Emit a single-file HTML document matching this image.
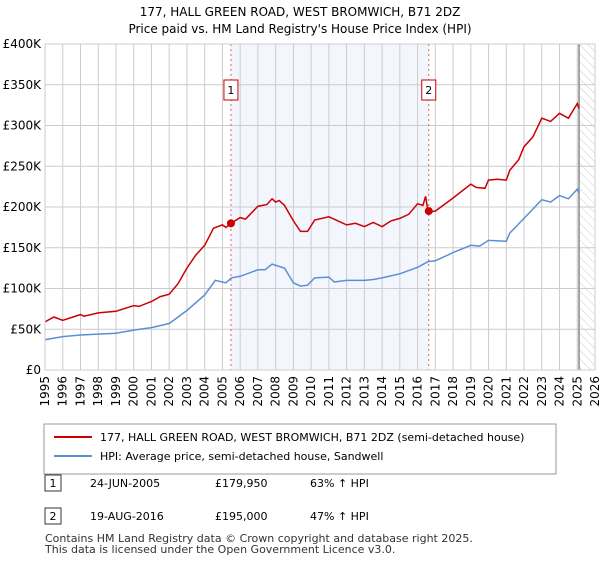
<!DOCTYPE html>
<html><head><meta charset="utf-8"><style>
body{margin:0;background:#fff;font-family:"Liberation Sans","DejaVu Sans",sans-serif;}
svg text{font-family:"DejaVu Sans","Liberation Sans",sans-serif;}
</style></head><body>
<svg id="chart" width="600" height="560" xmlns="http://www.w3.org/2000/svg">
<defs><pattern id="hatch" width="6" height="6" patternUnits="userSpaceOnUse" patternTransform="rotate(-45)"><line x1="0" y1="0" x2="0" y2="6" stroke="#ccc" stroke-width="1"/></pattern></defs>
<text x="300" y="16" text-anchor="middle" font-size="12">177, HALL GREEN ROAD, WEST BROMWICH, B71 2DZ</text>
<text x="300" y="33" text-anchor="middle" font-size="12">Price paid vs. HM Land Registry's House Price Index (HPI)</text>
<g id="plot"></g>
<g>
<rect x="44" y="424" width="512" height="50" fill="#fff" stroke="#999"/>
<line x1="54" y1="437" x2="92" y2="437" stroke="#cc0000" stroke-width="2"/>
<text x="100" y="441" font-size="11">177, HALL GREEN ROAD, WEST BROMWICH, B71 2DZ (semi-detached house)</text>
<line x1="54" y1="456" x2="92" y2="456" stroke="#5b8fd4" stroke-width="2"/>
<text x="100" y="460" font-size="11">HPI: Average price, semi-detached house, Sandwell</text>
</g>
<g font-size="11">
<rect x="45" y="475" width="16" height="16" fill="#fff" stroke="#333"/><text x="53" y="487" text-anchor="middle">1</text>
<text x="90" y="487">24-JUN-2005</text><text x="215" y="487">£179,950</text><text x="310" y="487">63% ↑ HPI</text>
<rect x="45" y="508" width="16" height="16" fill="#fff" stroke="#333"/><text x="53" y="520" text-anchor="middle">2</text>
<text x="90" y="520">19-AUG-2016</text><text x="215" y="520">£195,000</text><text x="310" y="520">47% ↑ HPI</text>
</g>
<text x="45" y="542" font-size="11" fill="#333">Contains HM Land Registry data © Crown copyright and database right 2025.</text>
<text x="45" y="553" font-size="11" fill="#333">This data is licensed under the Open Government Licence v3.0.</text>
</svg>
<script>
const yTicks=[0,50000,100000,150000,200000,250000,300000,350000,400000];
const yTickLabels=["£0","£50K","£100K","£150K","£200K","£250K","£300K","£350K","£400K"];
const xYears=[1995,1996,1997,1998,1999,2000,2001,2002,2003,2004,2005,2006,2007,2008,2009,2010,2011,2012,2013,2014,2015,2016,2017,2018,2019,2020,2021,2022,2023,2024,2025,2026];
const hpiX=[1995,1996,1997,1998,1999,2000,2001,2002,2003,2004,2004.6,2005.2,2005.5,2006,2007,2007.4,2007.8,2008.5,2009,2009.4,2009.8,2010.2,2011,2011.3,2012,2013,2013.5,2014,2015,2016,2016.6,2017,2018,2019,2019.5,2020,2021,2021.2,2022,2023,2023.5,2024,2024.5,2025,2025.1];
const hpiY=[37,41,43,44,45,49,52,57,73,92,110,107,113,115,123,123,130,125,107,103,104,113,114,108,110,110,111,113,118,126,133,134,144,153,152,159,158,168,186,209,206,214,210,222,217];
const redX=[1995,1995.5,1996,1997,1997.2,1998,1999,2000,2000.3,2001,2001.5,2002,2002.5,2003,2003.5,2004,2004.5,2005,2005.2,2005.48,2006,2006.3,2007,2007.5,2007.8,2008,2008.2,2008.5,2009,2009.4,2009.8,2010.2,2011,2011.3,2012,2012.5,2013,2013.5,2014,2014.5,2015,2015.5,2016,2016.3,2016.45,2016.55,2016.63,2017,2018,2019,2019.3,2019.8,2020,2020.5,2021,2021.2,2021.7,2022,2022.5,2023,2023.5,2024,2024.5,2025,2025.1];
const redY=[59,65,61,68,66,70,72,79,78,84,90,93,106,125,141,153,174,178,175,180,187,185,201,203,210,206,208,202,183,170,170,184,188,185,178,180,176,181,176,183,186,191,204,202,213,200,194,195,211,228,224,223,233,234,233,245,258,274,286,309,305,315,309,327,321];
const saleX=[2005.48,2016.63];
const saleY=[179950,195000];
const saleLabels=["1","2"];
const X0=45,X1=595,Y0=370,Y1=44;
const xs=y=>X0+(y-1995)*(X1-X0)/31;
const ys=v=>Y0-v*(Y0-Y1)/400000;
const NS="http://www.w3.org/2000/svg";
const g=document.getElementById('plot');
function mk(t,a){const e=document.createElementNS(NS,t);for(const k in a)e.setAttribute(k,a[k]);g.appendChild(e);return e;}
let e=mk('rect',{x:xs(saleX[0]),y:Y1,width:xs(saleX[1])-xs(saleX[0]),height:Y0-Y1,fill:'#f3f6fd'});


e=mk('rect',{x:xs(2025.1),y:Y1,width:X1-xs(2025.1),height:Y0-Y1,fill:'url(#hatch)'});


xYears.forEach(yr=>{const l=mk('line',{x1:xs(yr),x2:xs(yr),y1:Y1,y2:Y0,stroke:'#ccc'});


const t=mk('text',{x:0,y:0,'font-size':12,'text-anchor':'end',transform:`translate(${xs(yr)+4},${Y0+6}) rotate(-90)`});t.textContent=yr;

});
yTicks.forEach((v,i)=>{const l=mk('line',{x1:X0,x2:X1,y1:ys(v),y2:ys(v),stroke:'#ccc'});


const t=mk('text',{x:X0-4,y:ys(v)+4,'font-size':12,'text-anchor':'end'});t.textContent=yTickLabels[i];

});
e=mk('line',{x1:xs(2025.1),x2:xs(2025.1),y1:Y1,y2:Y0,stroke:'#888','stroke-width':1.5});


function path(X,Y,c,n){const p=mk('path',{d:X.map((x,i)=>(i?'L':'M')+xs(x).toFixed(1)+','+ys(Y[i]*1000).toFixed(1)).join(''),fill:'none',stroke:c,'stroke-width':1.5});

}
path(hpiX,hpiY,'#5b8fd4','hpi-line');
path(redX,redY,'#cc0000','price-paid-line');
saleX.forEach((x,i)=>{const l=mk('line',{x1:xs(x),x2:xs(x),y1:Y1,y2:Y0,stroke:'#e06060','stroke-dasharray':'2,3'});


const c=mk('circle',{cx:xs(x),cy:ys(saleY[i]),r:4,fill:'#cc0000'});


const r=mk('rect',{x:xs(x)-7,y:80,width:14,height:20,fill:'#fff',stroke:'#cc0000'});


const t=mk('text',{x:xs(x),y:94,'font-size':11,'text-anchor':'middle'});t.textContent=saleLabels[i];

});
e=mk('rect',{x:X0,y:Y1,width:X1-X0,height:Y0-Y1,fill:'none',stroke:'#ccc'});


</script>
</body></html>
